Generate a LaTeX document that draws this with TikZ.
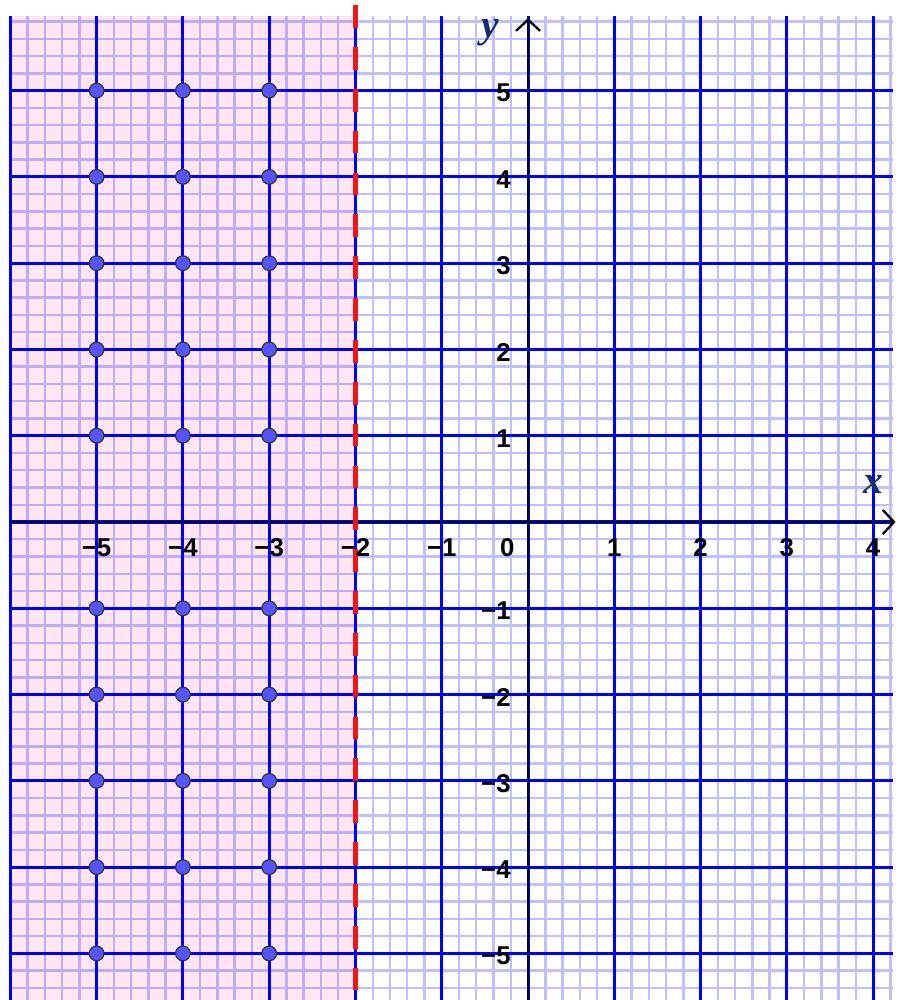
\documentclass[tikz,border=0pt]{standalone}
\usepackage{fontspec}
\setmainfont{Liberation Sans}
\newfontfamily\varfont{Liberation Serif}
\usepackage{tikz}
\usetikzlibrary{arrows.meta}
\usepackage{xcolor}
\definecolor{gridblue}{RGB}{0,0,255}
\definecolor{gridpink}{RGB}{255,230,242}
\definecolor{dotblue}{RGB}{85,85,255}
\definecolor{varnavy}{RGB}{20,45,110}
\definecolor{bordred}{RGB}{240,20,20}
\tikzstyle{minorline} = [gridblue, opacity=0.25, line width=0.8pt]
\tikzstyle{majorline} = [gridblue, line width=1pt]
\tikzstyle{axis} = [black, line width=0.75pt, -{Straight Barb[length=1.3mm,width=2.8mm]}]
\tikzstyle{boundary} = [bordred, line width=1.4pt, dash pattern=on 7.5pt off 6.3pt]
\tikzstyle{latpt} = [circle, draw=black!80, fill=dotblue, line width=0.4pt, minimum size=0.17cm, inner sep=0pt]
\tikzstyle{ticklbl} = [font=\bfseries\fontsize{8.5}{10}\selectfont, inner sep=1pt]
\tikzstyle{varlbl} = [font=\varfont\bfseries\itshape\fontsize{13}{15}\selectfont, text=varnavy, inner sep=0pt]

\begin{document}
\begin{tikzpicture}
    \useasboundingbox (-6.12,-5.54) rectangle (4.38,6.05);

    % Shaded half-plane x < -2
    \fill[gridpink] (-6,-5.54) rectangle (-2,5.86);

    % Grid
    \draw[minorline, step=0.2] (-6,-5.54) grid (4.23,5.86);
    \draw[majorline, step=1] (-6,-5.54) grid (4.23,5.86);

    % Axes
    \coordinate (xfrom) at (-6,0);
    \coordinate (xto) at (4.26,0);
    \coordinate (yfrom) at (0,-5.54);
    \coordinate (yto) at (0,5.84);
    \draw[axis] (xfrom) -- (xto);
    \draw[axis] (yfrom) -- (yto);
    \node[varlbl] (xlbl) at (4.0,0.44) {x};
    \node[varlbl] (ylbl) at (-0.44,5.67) {y};

    % Boundary x = -2
    \coordinate (btop) at (-2,5.99);
    \coordinate (bbot) at (-2,-5.54);
    \draw[boundary] (btop) -- (bbot);

    % Numbers
    \foreach \v in {1,...,5} {
        \node[ticklbl] (xneg\v) at (-\v,-0.3) {−\v};
        \node[ticklbl, anchor=east] (ypos\v) at (-0.16,\v-0.03) {\v};
        \node[ticklbl, anchor=east] (yneg\v) at (-0.16,-\v-0.03) {−\v};
    }
    \foreach \v in {1,...,4}
        \node[ticklbl] (xpos\v) at (\v,-0.3) {\v};
    \node[ticklbl] (orig) at (-0.24,-0.3) {0};

    % Integer points
    \foreach \x [count=\i] in {-5,-4,-3}
        \foreach \y in {-5,-4,-3,-2,-1,1,2,3,4,5}
            \node[latpt] (pt\i\y) at (\x,\y) {};
\end{tikzpicture}
\end{document}
